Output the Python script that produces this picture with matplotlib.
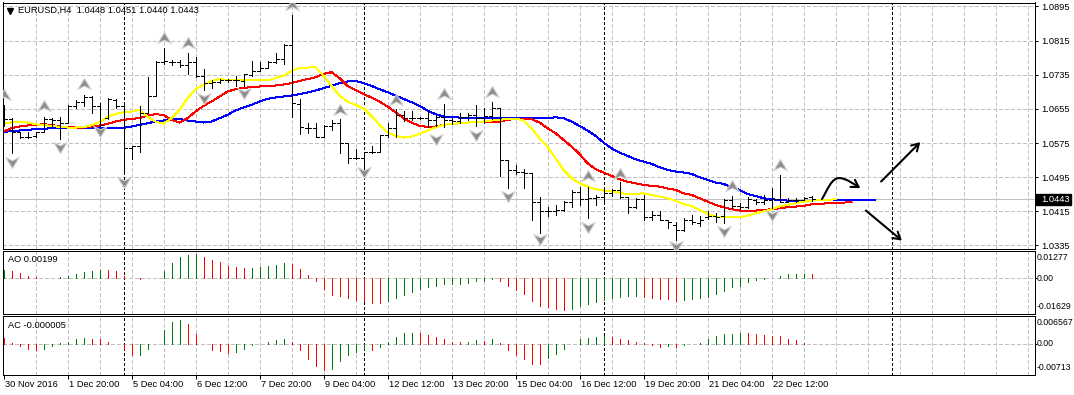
import matplotlib
matplotlib.use("Agg")
import matplotlib.pyplot as plt
import matplotlib.transforms as mtransforms
from matplotlib.path import Path
from matplotlib.patches import FancyArrowPatch, Rectangle

plt.rcParams['font.family'] = ['Liberation Sans', 'DejaVu Sans']
plt.rcParams['lines.scale_dashes'] = False

# ---------------- data ----------------
symbol = "EURUSD,H4"

opens = [1.0661, 1.0631, 1.0600, 1.0589, 1.0592, 1.0602, 1.0631, 1.0628, 1.0623, 1.0662,
         1.0672, 1.0684, 1.0661, 1.0633, 1.0676, 1.0662, 1.0563, 1.0567, 1.0645, 1.0686,
         1.0766, 1.0764, 1.0764, 1.0757, 1.0766, 1.0733, 1.0715, 1.0719, 1.0722, 1.0722,
         1.0720, 1.0735, 1.0745, 1.0750, 1.0766, 1.0772, 1.0805, 1.0667, 1.0610, 1.0610,
         1.0590, 1.0615, 1.0622, 1.0576, 1.0540, 1.0540, 1.0553, 1.0555, 1.0594, 1.0610,
         1.0641, 1.0633, 1.0633, 1.0633, 1.0628, 1.0636, 1.0628, 1.0626, 1.0636, 1.0641,
         1.0633, 1.0639, 1.0657, 1.0536, 1.0512, 1.0508, 1.0504, 1.0436, 1.0415, 1.0415,
         1.0419, 1.0438, 1.0461, 1.0443, 1.0446, 1.0448, 1.0459, 1.0464, 1.0448, 1.0426,
         1.0443, 1.0401, 1.0407, 1.0395, 1.0383, 1.0372, 1.0395, 1.0387, 1.0401, 1.0403,
         1.0403, 1.0442, 1.0428, 1.0425, 1.0442, 1.0438, 1.0442, 1.0443, 1.0438, 1.0442,
         1.0442, 1.0448]
highs = [1.0665, 1.0633, 1.0602, 1.0602, 1.0602, 1.0637, 1.0633, 1.0637, 1.0665, 1.0676,
         1.0688, 1.0686, 1.0670, 1.0680, 1.0678, 1.0667, 1.0567, 1.0661, 1.0729, 1.0768,
         1.0797, 1.0770, 1.0770, 1.0786, 1.0776, 1.0748, 1.0723, 1.0726, 1.0726, 1.0733,
         1.0737, 1.0768, 1.0764, 1.0768, 1.0787, 1.0807, 1.0875, 1.0678, 1.0622, 1.0622,
         1.0618, 1.0629, 1.0631, 1.0576, 1.0561, 1.0555, 1.0567, 1.0594, 1.0623, 1.0654,
         1.0649, 1.0649, 1.0637, 1.0651, 1.0641, 1.0667, 1.0633, 1.0645, 1.0645, 1.0664,
         1.0657, 1.0672, 1.0657, 1.0536, 1.0524, 1.0514, 1.0506, 1.0448, 1.0426, 1.0430,
         1.0440, 1.0465, 1.0472, 1.0472, 1.0454, 1.0469, 1.0467, 1.0483, 1.0448, 1.0446,
         1.0454, 1.0415, 1.0417, 1.0395, 1.0389, 1.0399, 1.0407, 1.0403, 1.0415, 1.0412,
         1.0443, 1.0450, 1.0434, 1.0448, 1.0443, 1.0454, 1.0469, 1.0501, 1.0446, 1.0446,
         1.0448, 1.0451]
lows = [1.0614, 1.0551, 1.0586, 1.0586, 1.0589, 1.0602, 1.0614, 1.0584, 1.0623, 1.0657,
        1.0662, 1.0645, 1.0614, 1.0631, 1.0657, 1.0503, 1.0537, 1.0553, 1.0645, 1.0686,
        1.0761, 1.0758, 1.0754, 1.0737, 1.0729, 1.0700, 1.0704, 1.0715, 1.0717, 1.0709,
        1.0709, 1.0731, 1.0743, 1.0750, 1.0762, 1.0761, 1.0637, 1.0596, 1.0598, 1.0589,
        1.0589, 1.0606, 1.0551, 1.0529, 1.0537, 1.0520, 1.0551, 1.0553, 1.0590, 1.0590,
        1.0626, 1.0629, 1.0631, 1.0612, 1.0614, 1.0612, 1.0620, 1.0622, 1.0629, 1.0614,
        1.0623, 1.0631, 1.0497, 1.0469, 1.0503, 1.0469, 1.0394, 1.0365, 1.0404, 1.0407,
        1.0417, 1.0426, 1.0430, 1.0399, 1.0430, 1.0438, 1.0451, 1.0447, 1.0411, 1.0422,
        1.0394, 1.0395, 1.0394, 1.0376, 1.0348, 1.0368, 1.0386, 1.0381, 1.0397, 1.0391,
        1.0387, 1.0422, 1.0420, 1.0422, 1.0433, 1.0433, 1.0422, 1.0438, 1.0436, 1.0438,
        1.0442, 1.0440]
closes = [1.0631, 1.0601, 1.0589, 1.0590, 1.0602, 1.0631, 1.0628, 1.0623, 1.0662, 1.0672,
          1.0684, 1.0661, 1.0618, 1.0678, 1.0662, 1.0563, 1.0567, 1.0645, 1.0686, 1.0766,
          1.0768, 1.0764, 1.0757, 1.0766, 1.0733, 1.0715, 1.0719, 1.0723, 1.0722, 1.0722,
          1.0737, 1.0745, 1.0750, 1.0766, 1.0772, 1.0805, 1.0669, 1.0612, 1.0610, 1.0590,
          1.0615, 1.0622, 1.0576, 1.0540, 1.0540, 1.0553, 1.0555, 1.0594, 1.0610, 1.0641,
          1.0633, 1.0633, 1.0633, 1.0628, 1.0637, 1.0628, 1.0626, 1.0636, 1.0641, 1.0633,
          1.0639, 1.0657, 1.0536, 1.0512, 1.0508, 1.0504, 1.0436, 1.0415, 1.0415, 1.0419,
          1.0438, 1.0461, 1.0443, 1.0446, 1.0448, 1.0459, 1.0464, 1.0448, 1.0426, 1.0443,
          1.0401, 1.0407, 1.0395, 1.0391, 1.0372, 1.0395, 1.0391, 1.0394, 1.0403, 1.0401,
          1.0442, 1.0428, 1.0425, 1.0443, 1.0438, 1.0442, 1.0443, 1.0438, 1.0442, 1.0442,
          1.0446, 1.0443]

# Alligator-style lines (lips yellow, teeth red, jaw blue)
lips = [1.06200, 1.06239, 1.06254, 1.06231, 1.06192, 1.06169, 1.06153, 1.06129, 1.06114, 1.06114,
        1.06122, 1.06169, 1.06239, 1.06356, 1.06434, 1.06473, 1.06489, 1.06528, 1.06372, 1.06254,
        1.06200, 1.06333, 1.06528, 1.06801, 1.07012, 1.07114, 1.07208, 1.07247, 1.07231, 1.07223,
        1.07223, 1.07223, 1.07223, 1.07223, 1.07270, 1.07325, 1.07442, 1.07504, 1.07520, 1.07528,
        1.07325, 1.07090, 1.06864, 1.06723, 1.06645, 1.06567, 1.06387, 1.06176, 1.05997, 1.05919,
        1.05879, 1.05903, 1.05965, 1.06044, 1.06114, 1.06176, 1.06200, 1.06215, 1.06231, 1.06239,
        1.06254, 1.06278, 1.06294, 1.06317, 1.06325, 1.06278, 1.06098, 1.05864, 1.05669, 1.05395,
        1.05122, 1.04926, 1.04809, 1.04731, 1.04669, 1.04637, 1.04614, 1.04590, 1.04551, 1.04559,
        1.04575, 1.04536, 1.04497, 1.04458, 1.04395, 1.04325, 1.04278, 1.04184, 1.04090, 1.04028,
        1.04012, 1.04012, 1.04012, 1.04044, 1.04106, 1.04145, 1.04200, 1.04262, 1.04301, 1.04340,
        1.04379, 1.04403, 1.04419, 1.04419, 1.04434]
teeth = [1.06020, 1.06098, 1.06137, 1.06161, 1.06176, 1.06192, 1.06176, 1.06137, 1.06122, 1.06114,
         1.06114, 1.06137, 1.06161, 1.06200, 1.06254, 1.06294, 1.06317, 1.06333, 1.06395, 1.06426,
         1.06411, 1.06294, 1.06231, 1.06333, 1.06489, 1.06622, 1.06723, 1.06840, 1.06958, 1.07012,
         1.07044, 1.07059, 1.07075, 1.07090, 1.07098, 1.07122, 1.07153, 1.07208, 1.07247, 1.07294,
         1.07372, 1.07411, 1.07270, 1.07090, 1.06997, 1.06895, 1.06817, 1.06723, 1.06606, 1.06473,
         1.06333, 1.06231, 1.06153, 1.06129, 1.06137, 1.06176, 1.06200, 1.06215, 1.06231, 1.06239,
         1.06239, 1.06247, 1.06247, 1.06294, 1.06317, 1.06325, 1.06309, 1.06231, 1.06098, 1.05981,
         1.05825, 1.05669, 1.05497, 1.05278, 1.05137, 1.05059, 1.04981, 1.04903, 1.04840, 1.04809,
         1.04770, 1.04747, 1.04731, 1.04684, 1.04653, 1.04575, 1.04536, 1.04458, 1.04379, 1.04301,
         1.04247, 1.04200, 1.04169, 1.04161, 1.04169, 1.04184, 1.04200, 1.04223, 1.04247, 1.04262,
         1.04278, 1.04317, 1.04325, 1.04340, 1.04356, 1.04356, 1.04364]
jaw = [1.06004, 1.06036, 1.06044, 1.06059, 1.06075, 1.06083, 1.06098, 1.06114, 1.06114, 1.06106,
       1.06106, 1.06106, 1.06098, 1.06106, 1.06106, 1.06106, 1.06137, 1.06176, 1.06215, 1.06254,
       1.06278, 1.06309, 1.06317, 1.06278, 1.06254, 1.06231, 1.06254, 1.06333, 1.06411, 1.06512,
       1.06583, 1.06645, 1.06723, 1.06786, 1.06817, 1.06840, 1.06864, 1.06895, 1.06934, 1.06981,
       1.07036, 1.07090, 1.07153, 1.07192, 1.07208, 1.07153, 1.07090, 1.07012, 1.06942, 1.06864,
       1.06786, 1.06708, 1.06622, 1.06512, 1.06426, 1.06372, 1.06356, 1.06348, 1.06348, 1.06348,
       1.06348, 1.06348, 1.06333, 1.06333, 1.06333, 1.06333, 1.06333, 1.06333, 1.06333, 1.06356,
       1.06333, 1.06254, 1.06153, 1.06044, 1.05919, 1.05762, 1.05629, 1.05528, 1.05450, 1.05372,
       1.05317, 1.05262, 1.05184, 1.05122, 1.05083, 1.05059, 1.05028, 1.04950, 1.04887, 1.04825,
       1.04794, 1.04715, 1.04653, 1.04559, 1.04512, 1.04458, 1.04434, 1.04419, 1.04403, 1.04403,
       1.04403, 1.04403, 1.04411, 1.04419, 1.04419, 1.04419, 1.04419, 1.04419, 1.04419, 1.04419]

ao_values = [0.0039, 0.0031, 0.0022, 0.0011, 0.0005, 0.0001, 0.0003, 0.0006, 0.0011, 0.0020,
             0.0028, 0.0034, 0.0040, 0.0039, 0.0034, 0.0012, 0.0001, -0.0003, -0.0001, 0.0001,
             0.0034, 0.0071, 0.0096, 0.0108, 0.0111, 0.0096, 0.0082, 0.0073, 0.0057, 0.0050,
             0.0048, 0.0049, 0.0053, 0.0057, 0.0062, 0.0071, 0.0067, 0.0043, 0.0015, -0.0011,
             -0.0048, -0.0076, -0.0080, -0.0091, -0.0099, -0.0107, -0.0115, -0.0116, -0.0104, -0.0091,
             -0.0076, -0.0063, -0.0048, -0.0039, -0.0034, -0.0029, -0.0028, -0.0025, -0.0020, -0.0015,
             -0.0014, -0.0006, -0.0011, -0.0034, -0.0053, -0.0071, -0.0104, -0.0127, -0.0133, -0.0141,
             -0.0145, -0.0141, -0.0127, -0.0118, -0.0108, -0.0099, -0.0091, -0.0085, -0.0082, -0.0080,
             -0.0087, -0.0090, -0.0096, -0.0098, -0.0105, -0.0101, -0.0098, -0.0093, -0.0085, -0.0073,
             -0.0057, -0.0042, -0.0034, -0.0019, -0.0008, -0.0002, 0.0002, 0.0012, 0.0018, 0.0020,
             0.0021, 0.00199]
ac_values = [0.0014, 0.0001, -0.0005, -0.0012, -0.0015, -0.0012, -0.0004, 0.0001, 0.0005, 0.0012,
             0.0014, 0.0012, 0.0010, 0.0005, -0.0001, -0.0013, -0.0026, -0.0025, -0.0013, 0.0000,
             0.0031, 0.0051, 0.0055, 0.0045, 0.0022, -0.0001, -0.0015, -0.0016, -0.0021, -0.0019,
             -0.0012, -0.0002, 0.0000, 0.0005, 0.0008, 0.0011, 0.0004, -0.0015, -0.0035, -0.0052,
             -0.0061, -0.0058, -0.0041, -0.0027, -0.0018, -0.0012, -0.0015, -0.0008, 0.0003, 0.0015,
             0.0024, 0.0026, 0.0025, 0.0021, 0.0015, 0.0010, 0.0005, 0.0004, 0.0005, 0.0008,
             0.0007, 0.0010, 0.0001, -0.0014, -0.0026, -0.0035, -0.0047, -0.0048, -0.0033, -0.0024,
             -0.0012, -0.0001, 0.0010, 0.0013, 0.0016, 0.0018, 0.0015, 0.0010, 0.0008, 0.0005,
             0.0001, -0.0002, -0.0007, -0.0004, -0.0008, -0.0002, 0.0000, 0.0002, 0.0012, 0.0018,
             0.0022, 0.0023, 0.0025, 0.0024, 0.0023, 0.0021, 0.0018, 0.0017, 0.0012, 0.0008,
             0.0002, -0.000005]

fractal_up_bars = [0, 5, 10, 20, 23, 36, 42, 49, 55, 61, 73, 77, 91, 97]
fractal_up_prices = [1.06879, 1.06622, 1.07137, 1.08208, 1.08090, 1.08989, 1.06528, 1.06762,
                     1.06895, 1.06958, 1.04981, 1.05028, 1.04747, 1.05239]
fractal_dn_bars = [1, 7, 12, 15, 25, 30, 45, 54, 59, 63, 67, 73, 84, 90, 96]
fractal_dn_prices = [1.05317, 1.05669, 1.06044, 1.04848, 1.06801, 1.06919, 1.05083, 1.05841,
                     1.05942, 1.04512, 1.03497, 1.03794, 1.03341, 1.03692, 1.04067]

price_levels = [1.0335, 1.0415, 1.0495, 1.0575, 1.0655, 1.0735, 1.0815, 1.0895]
time_labels = ['30 Nov 2016', '1 Dec 20:00', '5 Dec 04:00', '6 Dec 12:00', '7 Dec 20:00',
               '9 Dec 04:00', '12 Dec 12:00', '13 Dec 20:00', '15 Dec 04:00', '16 Dec 12:00',
               '19 Dec 20:00', '21 Dec 04:00', '22 Dec 12:00']
bars_per_label = 8
week_separators = [15, 45, 75, 111]
ao_range = (-0.01629, 0.01277)
ac_range = (-0.00713, 0.006567)
ao_labels = ['0.01277', '0.00', '-0.01629']
ac_labels = ['0.006567', '0.00', '-0.00713']

# user-drawn scenario arrows (bar index, price)
curve_arrow = [(102.3, 1.04436), (103.0, 1.0465), (103.5, 1.0494), (104.5, 1.0493),
               (105.4, 1.0492), (106.2, 1.0480), (107.1, 1.04694)]
up_arrow = ((109.7, 1.04849), (114.6, 1.05772))
down_arrow = ((107.8, 1.04169), (112.3, 1.03466))

# ---------------- layout ----------------
W, H = 1074, 395
fig = plt.figure(figsize=(W / 100, H / 100), dpi=100)
fig.patch.set_facecolor('white')


def rect(l, t, r, b):
    return [l / W, (H - b) / H, (r - l) / W, (b - t) / H]


ax = fig.add_axes(rect(2.5, 2.5, 1034.5, 248.5))
ax_ao = fig.add_axes(rect(2.5, 250.5, 1034.5, 313.5), sharex=ax)
ax_ac = fig.add_axes(rect(2.5, 315.5, 1034.5, 374.5), sharex=ax)

FS = 6.7
FS_SUB = 6.3
GRID = '#c0c0c0'
LW = 0.72  # one pixel
MALW = 0.72

ax.set_xlim(-0.125, 128.875)
ax.set_ylim(1.032797, 1.090437)
ax_ao.set_ylim(*ao_range)
ax_ac.set_ylim(*ac_range)

for a in (ax, ax_ao, ax_ac):
    for s in a.spines.values():
        s.set_color('black')
        s.set_linewidth(LW)
    a.set_facecolor('white')
    for k in range(4, 129, 4):
        a.axvline(k, color=GRID, lw=LW, ls=(0, (2.2, 1.5)), zorder=0.5, antialiased=False)
    for k in week_separators:
        a.axvline(k, color='black', lw=LW, ls=(0, (1.45, 1.45)), zorder=0.6, antialiased=False)
    a.tick_params(axis='y', left=False, labelleft=False, right=False, labelright=False)

for a in (ax, ax_ao):
    a.tick_params(axis='x', bottom=False, labelbottom=False)

for p in price_levels:
    ax.axhline(p, color=GRID, lw=LW, ls=(0, (2.2, 1.5)), zorder=0.5, antialiased=False)
bid = closes[-1]
ax.axhline(bid, color='#c0c0c0', lw=LW, zorder=0.7, antialiased=False)

# Alligator lines
ax.plot(range(len(jaw)), jaw, color='#0000ff', lw=MALW, antialiased=False, zorder=2)
ax.plot(range(len(teeth)), teeth, color='#ff0000', lw=MALW, antialiased=False, zorder=2.1)
ax.plot(range(len(lips)), lips, color='#ffff00', lw=MALW, antialiased=False, zorder=2.2)

# OHLC bars
xs = list(range(len(closes)))
ax.vlines(xs, lows, highs, colors='black', lw=LW, antialiased=False, zorder=3)
ax.hlines(opens, [x - 0.375 for x in xs], xs, colors='black', lw=LW, antialiased=False, zorder=3)
ax.hlines(closes, xs, [x + 0.375 for x in xs], colors='black', lw=LW, antialiased=False, zorder=3)

# fractals
up_path = Path([(0, 0.9), (1, -0.75), (0, -0.25), (-1, -0.75), (0, 0.9)],
               [Path.MOVETO, Path.LINETO, Path.LINETO, Path.LINETO, Path.CLOSEPOLY])
dn_path = Path([(0, -0.9), (1, 0.75), (0, 0.25), (-1, 0.75), (0, -0.9)],
               [Path.MOVETO, Path.LINETO, Path.LINETO, Path.LINETO, Path.CLOSEPOLY])
ax.plot(fractal_up_bars, fractal_up_prices, ls='none', marker=up_path, ms=9.5,
        mfc='#8c8c8c', mec='#d0d0d0', mew=0.8, zorder=4)
ax.plot(fractal_dn_bars, fractal_dn_prices, ls='none', marker=dn_path, ms=9.5,
        mfc='#8c8c8c', mec='#d0d0d0', mew=0.8, zorder=4)

# scenario arrows
codes = [Path.MOVETO, Path.CURVE4, Path.CURVE4, Path.CURVE4, Path.CURVE4, Path.CURVE4, Path.CURVE4]
curve = FancyArrowPatch(path=Path(curve_arrow, codes), arrowstyle='->,head_length=5,head_width=3',
                        lw=1.5, color='black', transform=ax.transData, zorder=5)
ax.add_patch(curve)
for (a0, a1) in (up_arrow, down_arrow):
    ax.add_patch(FancyArrowPatch(a0, a1, arrowstyle='->,head_length=5,head_width=3',
                                 lw=1.5, color='black', shrinkA=0, shrinkB=0, zorder=5))

# right price scale
ax.yaxis.set_ticks_position('right')
ax.set_yticks(price_levels)
ax.set_yticklabels([f'{p:.4f}' for p in price_levels])
ax.tick_params(axis='y', right=True, labelright=True, length=2.2, width=LW, pad=2.7,
               labelsize=FS, colors='black')
fig.patches.append(Rectangle((1036 / W, 1 - 204.5 / H), 35 / W, 10.5 / H, transform=fig.transFigure,
                             facecolor='black', edgecolor='black', zorder=10))
ytr = mtransforms.blended_transform_factory(fig.transFigure, ax.transData)
fig.text(1041 / W, bid, f'{bid:.4f}', transform=ytr, color='white', fontsize=FS,
         va='center', ha='left', zorder=11)

# header
last = len(closes) - 1
fig.text(18.5 / W, 1 - 10.7 / H,
         f'{symbol}  {opens[last]:.4f} {highs[last]:.4f} {lows[last]:.4f} {closes[last]:.4f}',
         fontsize=FS, va='center', ha='left')
fig.add_artist(plt.Line2D([9.5 / W], [1 - 10.5 / H], marker='v', ms=4.2, color='black',
                          transform=fig.transFigure))


def hist(a, vals, first_color):
    cols = []
    for i, v in enumerate(vals):
        if i == 0:
            cols.append(first_color)
        else:
            cols.append('#008000' if v >= vals[i - 1] else '#ff0000')
    a.vlines(range(len(vals)), 0, vals, colors=cols, lw=LW, antialiased=False, zorder=3)
    a.axhline(0, color=GRID, lw=LW, ls=(0, (2.2, 1.5)), zorder=0.5, antialiased=False)


hist(ax_ao, ao_values, '#008000')
hist(ax_ac, ac_values, '#ff0000')

fig.text(7.6 / W, 1 - 260 / H, f'AO {ao_values[-1]:.5f}', fontsize=FS, va='center', ha='left')
fig.text(7.6 / W, 1 - 325 / H, f'AC {ac_values[-1]:.6f}', fontsize=FS, va='center', ha='left')

for a, labs, (ftop, fbot) in ((ax_ao, ao_labels, (0.885, 0.117)), (ax_ac, ac_labels, (0.875, 0.118))):
    tr = mtransforms.blended_transform_factory(fig.transFigure, a.transAxes)
    trd = mtransforms.blended_transform_factory(fig.transFigure, a.transData)
    fig.text(1037 / W, ftop, labs[0], transform=tr, fontsize=FS_SUB, va='center', ha='left')
    fig.text(1037 / W, 0, labs[1], transform=trd, fontsize=FS_SUB, va='center', ha='left')
    fig.text(1037 / W, fbot, labs[2], transform=tr, fontsize=FS_SUB, va='center', ha='left')
    a.yaxis.set_ticks_position('right')
    a.set_yticks([0])
    a.tick_params(axis='y', right=True, labelright=False, length=1.5, width=LW)

# time axis
ax_ac.set_xticks([bars_per_label * j for j in range(len(time_labels))])
ax_ac.set_xticklabels(time_labels)
ax_ac.tick_params(axis='x', bottom=True, labelbottom=True, length=2.6, width=LW, pad=1.2,
                  labelsize=FS, colors='black')
offset = mtransforms.ScaledTranslation(1.5 / 100, 0, fig.dpi_scale_trans)
for lbl in ax_ac.get_xticklabels():
    lbl.set_ha('left')
    lbl.set_transform(lbl.get_transform() + offset)

fig.savefig('out.png', dpi=100)
